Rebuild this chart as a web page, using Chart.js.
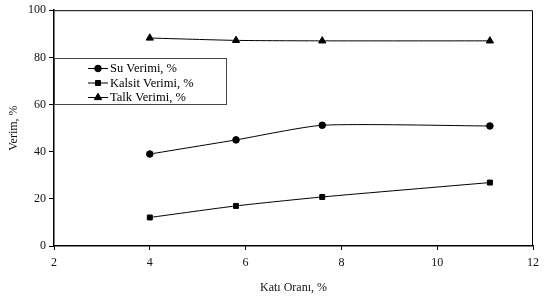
<!DOCTYPE html>
<html>
<head>
<meta charset="utf-8">
<script src="https://cdn.jsdelivr.net/npm/chart.js@4/dist/chart.umd.min.js"></script>
<style>
  html, body { margin: 0; padding: 0; background: #fff; }
  #wrap { width: 545px; height: 299px; }
</style>
</head>
<body>
<div id="wrap"><canvas id="chart"></canvas></div>
<script>
// Katı oranı (x) ve verim değerleri
const katiOrani = [4, 5.8, 7.6, 11.1];
const suVerimi = [39, 45, 51.2, 50.9];
const kalsitVerimi = [12.1, 17, 20.8, 26.9];
const talkVerimi = [88.2, 87.2, 87, 87];

const seriesLabels = ['Su Verimi, %', 'Kalsit Verimi, %', 'Talk Verimi, %'];
const FONT = 'Liberation Serif, "Times New Roman", serif';

function pts(ys) {
  return katiOrani.map((x, i) => ({ x: x, y: ys[i] }));
}

function ds(label, ys, style, r) {
  return {
    label: label,
    data: pts(ys),
    borderColor: '#000',
    backgroundColor: '#000',
    borderWidth: 1,
    pointStyle: style,
    pointRadius: r,
    pointHoverRadius: r,
    tension: 0.2,
    fill: false
  };
}

// Kutu çerçevesi + grafik içindeki lejant
const framePlugin = {
  id: 'frame',
  afterDraw(chart) {
    const { ctx, chartArea: a } = chart;
    ctx.save();
    ctx.strokeStyle = '#000';
    ctx.lineWidth = 1;
    ctx.beginPath();
    ctx.moveTo(a.left, a.top + 0.5);
    ctx.lineTo(a.right - 0.5, a.top + 0.5);
    ctx.lineTo(a.right - 0.5, a.bottom);
    ctx.stroke();

    // lejant kutusu
    const bx = a.left, by = 58, bw = 172, bh = 46;
    ctx.strokeStyle = '#444';
    ctx.strokeRect(bx + 0.5, by + 0.5, bw, bh);
    ctx.font = '12.5px ' + FONT;
    ctx.textBaseline = 'middle';
    ctx.fillStyle = '#000';
    chart.data.datasets.forEach((d, i) => {
      const y = by + 10 + i * 14.5;
      ctx.strokeStyle = '#000';
      ctx.beginPath();
      ctx.moveTo(88, y + 0.5);
      ctx.lineTo(108, y + 0.5);
      ctx.stroke();
      Chart.helpers.drawPoint(ctx, {
        pointStyle: d.pointStyle, radius: d.pointRadius, borderWidth: 1
      }, 98, y + 0.5);
      ctx.fillText(d.label, 110, y + 1);
    });
    ctx.restore();
  }
};

const ctx = document.getElementById('chart').getContext('2d');
const chart = new Chart(ctx, {
  type: 'line',
  data: {
    datasets: [
      ds(seriesLabels[0], suVerimi, 'circle', 3.3),
      ds(seriesLabels[1], kalsitVerimi, 'rect', 3.5),
      ds(seriesLabels[2], talkVerimi, 'triangle', 4.2)
    ]
  },
  options: {
    responsive: true,
    maintainAspectRatio: false,
    animation: false,
    layout: { padding: { top: 9, right: 5, left: 3, bottom: 0 } },
    plugins: {
      legend: { display: false },
      tooltip: { enabled: false }
    },
    scales: {
      x: {
        type: 'linear',
        min: 2,
        max: 12,
        ticks: { stepSize: 2, color: '#111', font: { family: FONT, size: 12 }, padding: 6 },
        grid: { drawOnChartArea: false, drawTicks: true, tickLength: 4, color: '#000' },
        border: { color: '#000', width: 1.5 },
        title: { display: true, text: 'Katı Oranı, %', color: '#111', font: { family: FONT, size: 12 }, padding: { top: 5 } },
        afterFit: s => { s.height = 53; }
      },
      y: {
        min: 0,
        max: 100,
        ticks: { stepSize: 20, color: '#111', font: { family: FONT, size: 12 }, padding: 3 },
        grid: { drawOnChartArea: false, drawTicks: true, tickLength: 5, color: '#000' },
        border: { color: '#000', width: 1.5 },
        title: { display: true, text: 'Verim, %', color: '#111', font: { family: FONT, size: 12 }, padding: { bottom: 2 } },
        afterFit: s => { s.width = 51; }
      }
    }
  },
  plugins: [framePlugin]
});
</script>
</body>
</html>
